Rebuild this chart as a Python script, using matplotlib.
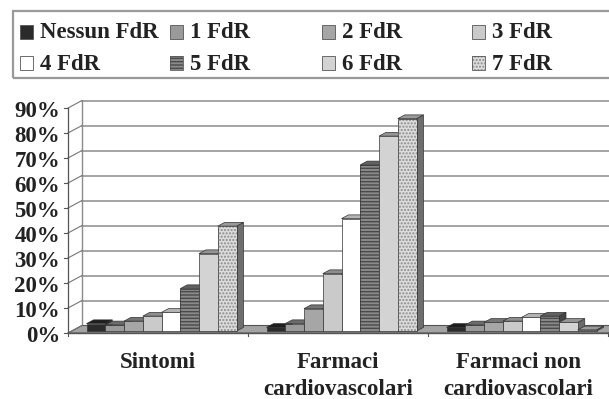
import matplotlib
matplotlib.use("Agg")
import matplotlib.pyplot as plt
from matplotlib.patches import Polygon, Rectangle
import numpy as np

plt.rcParams['font.family'] = ['Liberation Serif', 'DejaVu Serif']
plt.rcParams['font.weight'] = 'bold'

categories = ['Sintomi', 'Farmaci\ncardiovascolari', 'Farmaci non\ncardiovascolari']
series = ['Nessun FdR', '1 FdR', '2 FdR', '3 FdR', '4 FdR', '5 FdR', '6 FdR', '7 FdR']

# percent of patients per group, one list per risk-factor count
nessun = [3, 1.5, 1.5]
fdr1 = [2.5, 3, 2.5]
fdr2 = [4, 9, 3.5]
fdr3 = [6, 23, 4]
fdr4 = [7.5, 45, 5.5]
fdr5 = [17, 66.5, 6]
fdr6 = [31, 78, 3.5]
fdr7 = [42, 85, 0.5]
values = [nessun, fdr1, fdr2, fdr3, fdr4, fdr5, fdr6, fdr7]

yticks = np.arange(0, 91, 10)

faces = ['#2b2b2b', '#9a9a9a', '#a6a6a6', '#cacaca', '#ffffff', '#8a8a8a', '#d3d3d3', '#dcdcdc']
hatches = [None, None, None, None, None, '-----', None, '.....']
hatch_cols = [None, None, None, None, None, '#4a4a4a', None, '#8a8a8a']

W, H = 609, 399
fig = plt.figure(figsize=(W / 100, H / 100), dpi=100)
ax = fig.add_axes([0, 0, 1, 1])
# data units: one category = 180 px, 1% = 2.5 px; origin at px (68, 333)
ax.set_xlim(-68 / 180, (W - 68) / 180)
ax.set_ylim((333 - H) / 2.5, 333 / 2.5)
ax.axis('off')

dx, dy = 14 / 180, 3.0   # depth of the 3D box
ncat = len(categories)
fs = 16.5

def shade(c, k):
    r, g, b = matplotlib.colors.to_rgb(c)
    return (r * k, g * k, b * k)

# floor
ax.add_patch(Polygon([(0, 0), (ncat, 0), (ncat + dx, dy), (dx, dy)],
                     closed=True, fc='#a4a4a4', ec='#555555', lw=0.8, zorder=1))
# back wall gridlines, side wall and diagonal ticks
for v in yticks:
    ax.plot([dx, ncat + dx], [v + dy, v + dy], color='#8c8c8c', lw=1.1, zorder=0.5)
    ax.plot([0, dx], [v, v + dy], color='#777777', lw=0.8, zorder=2)
    ax.plot([-0.022, 0], [v, v], color='#555555', lw=0.8, zorder=2)
    ax.text(-0.044, v - 1.5, '%d%%' % v, ha='right', va='center',
            fontsize=fs, color='#222222')
ax.plot([dx, dx], [dy, 90 + dy], color='#8c8c8c', lw=1.0, zorder=0.5)
ax.plot([0, 0], [0, 90], color='#555555', lw=0.9, zorder=2)
ax.plot([0, ncat], [0, 0], color='#555555', lw=1.0, zorder=2)
for i in range(ncat + 1):
    ax.plot([i, i], [0, -1.2], color='#555555', lw=0.8, zorder=2)

# bars
bw = 18.75 / 180
side = 15 / 180
f, d = 0.25, 0.5
z = 3
for g in range(ncat):
    for k in range(len(series)):
        v = values[k][g]
        x0 = g + side + k * bw + f * dx
        y0 = f * dy
        x1 = x0 + bw
        y1 = y0 + v
        ox, oy = d * dx, d * dy
        front = [(x0, y0), (x1, y0), (x1, y1), (x0, y1)]
        top = [(x0, y1), (x1, y1), (x1 + ox, y1 + oy), (x0 + ox, y1 + oy)]
        sidef = [(x1, y0), (x1 + ox, y0 + oy), (x1 + ox, y1 + oy), (x1, y1)]
        fc = faces[k]
        ax.add_patch(Polygon(sidef, closed=True, fc=shade(fc, 0.5), ec='#333333', lw=0.5, zorder=z))
        ax.add_patch(Polygon(top, closed=True, fc=shade(fc, 0.7), ec='#333333', lw=0.5, zorder=z))
        if hatches[k]:
            ax.add_patch(Polygon(front, closed=True, fc=fc, ec=hatch_cols[k], lw=0,
                                 hatch=hatches[k], zorder=z))
            ax.add_patch(Polygon(front, closed=True, fill=False, ec='#333333', lw=0.5, zorder=z))
        else:
            ax.add_patch(Polygon(front, closed=True, fc=fc, ec='#333333', lw=0.5, zorder=z))
        z += 1

for g, name in enumerate(categories):
    ax.text(g + 0.5, -7.4, name, ha='center', va='top', fontsize=fs,
            color='#222222', linespacing=1.42)

# legend box, drawn in pixel units
def px(x, y):
    return x / W, 1 - y / H

fig.patches.append(Rectangle(px(13, 78), (W + 5 - 13) / W, 67 / H, transform=fig.transFigure,
                             fill=False, ec='#9a9a9a', lw=1.6))
col_x = [20, 170, 322, 472]
row_y = [32, 63]
for k, name in enumerate(series):
    cx = col_x[k % 4]
    cy = row_y[k // 4]
    p = Rectangle(px(cx, cy + 6.5), 13 / W, 13 / H, transform=fig.transFigure,
                  fc=faces[k], ec=hatch_cols[k] or '#555555', lw=0.6 if not hatches[k] else 0,
                  hatch=hatches[k])
    fig.patches.append(p)
    if hatches[k]:
        fig.patches.append(Rectangle(px(cx, cy + 6.5), 13 / W, 13 / H, transform=fig.transFigure,
                                     fill=False, ec='#555555', lw=0.6))
    tx, ty = px(cx + 20, cy + 1)
    fig.text(tx, ty, name, ha='left', va='center', fontsize=fs, color='#222222')

fig.savefig('out.png', dpi=100)
